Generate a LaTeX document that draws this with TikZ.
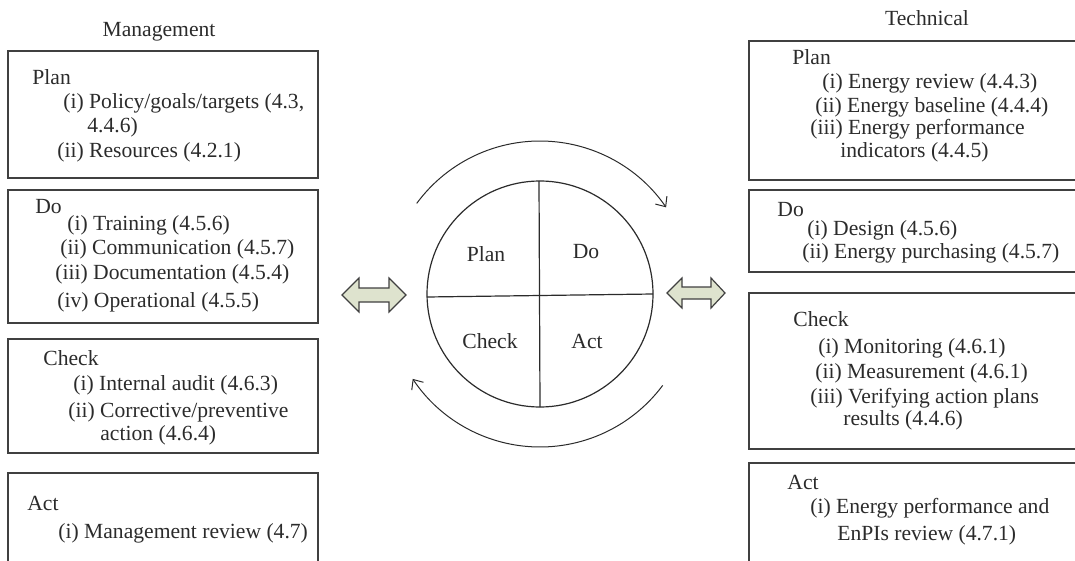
\documentclass[tikz,border=0pt]{standalone}
\usepackage{tikz}
\usepackage{fontspec}
\setmainfont{Liberation Serif}
\usetikzlibrary{arrows.meta}
\definecolor{arrowfill}{HTML}{DEE3CE}
\definecolor{inkgray}{HTML}{2B2B2B}
\tikzset{
    boxline/.style={line width=0.7pt, draw=inkgray!90},
    txt/.style={anchor=west, inner sep=0pt, text=inkgray, font=\fontsize{10.8}{13}\selectfont},
    ctxt/.style={inner sep=0pt, text=inkgray, font=\fontsize{10.8}{13}\selectfont},
    dblarrow/.style={line width=0.6pt, draw=inkgray!90, fill=arrowfill},
    cycarrow/.style={line width=0.5pt, draw=inkgray, -{Straight Barb[length=4pt,width=7pt]}}
}
\begin{document}
\begin{tikzpicture}[x=0.5pt, y=-0.5pt]
                \useasboundingbox (0,0) rectangle (1075,561);
                % management boxes
                \draw [boxline] (8,51) rectangle (318,178);
                \draw [boxline] (8,190) rectangle (318,323);
                \draw [boxline] (8,339) rectangle (318,453);
                \draw [boxline] (8,561) -- (8,473) -- (318,473) -- (318,561);
                % technical boxes
                \draw [boxline] (1075,41) -- (749,41) -- (749,180) -- (1075,180);
                \draw [boxline] (1075,190) -- (749,190) -- (749,272) -- (1075,272);
                \draw [boxline] (1075,293) -- (749,293) -- (749,449) -- (1075,449);
                \draw [boxline] (1075,463) -- (749,463) -- (749,561);
                \node [ctxt] (mgmt) at (159,32) {Management};
                \node [ctxt] (tech) at (927,18) {Technical};
                \node [txt] (mplan) at (32,77) {Plan};
                \node [txt] (mplan1) at (63,103) {(i) Policy/goals/targets (4.3,};
                \node [txt] (mplan1b) at (87,127) {4.4.6)};
                \node [txt] (mplan2) at (57,152) {(ii) Resources (4.2.1)};
                \node [txt] (mdo) at (35,207) {Do};
                \node [txt] (mdo1) at (67,225) {(i) Training (4.5.6)};
                \node [txt] (mdo2) at (60,249) {(ii) Communication (4.5.7)};
                \node [txt] (mdo3) at (55,274) {(iii) Documentation (4.5.4)};
                \node [txt] (mdo4) at (57,302) {(iv) Operational (4.5.5)};
                \node [txt] (mcheck) at (43,358) {Check};
                \node [txt] (mcheck1) at (73,385) {(i) Internal audit (4.6.3)};
                \node [txt] (mcheck2) at (68,412) {(ii) Corrective/preventive};
                \node [txt] (mcheck2b) at (100,435) {action (4.6.4)};
                \node [txt] (mact) at (27,503) {Act};
                \node [txt] (mact1) at (58,533) {(i) Management review (4.7)};
                \node [txt] (tplan) at (792,57) {Plan};
                \node [txt] (tplan1) at (822,83) {(i) Energy review (4.4.3)};
                \node [txt] (tplan2) at (815,107) {(ii) Energy baseline (4.4.4)};
                \node [txt] (tplan3) at (810,129) {(iii) Energy performance};
                \node [txt] (tplan3b) at (840,152) {indicators (4.4.5)};
                \node [txt] (tdo) at (777,210) {Do};
                \node [txt] (tdo1) at (807,230) {(i) Design (4.5.6)};
                \node [txt] (tdo2) at (802,253) {(ii) Energy purchasing (4.5.7)};
                \node [txt] (tcheck) at (793,319) {Check};
                \node [txt] (tcheck1) at (818,348) {(i) Monitoring (4.6.1)};
                \node [txt] (tcheck2) at (815,373) {(ii) Measurement (4.6.1)};
                \node [txt] (tcheck3) at (810,398) {(iii) Verifying action plans};
                \node [txt] (tcheck3b) at (843,420) {results (4.4.6)};
                \node [txt] (tact) at (787,482) {Act};
                \node [txt] (tact1) at (810,508) {(i) Energy performance and};
                \node [txt] (tact1b) at (837,535) {EnPIs review (4.7.1)};
                % cycle
                \coordinate (cyc) at (540,294);
                \draw [line width=0.6pt, inkgray] (cyc) circle [radius=113];
                \draw [line width=0.6pt, inkgray] (427,297) -- (653,294);
                \draw [line width=0.6pt, inkgray] (539,181) -- (540,407);
                \node [ctxt] (cplan) at (486,254) {Plan};
                \node [ctxt] (cdo) at (586,252) {Do};
                \node [ctxt] (ccheck) at (490,341) {Check};
                \node [ctxt] (cact) at (587,341) {Act};
                \draw [cycarrow] ([shift={(-143.7:153)}]cyc) arc [start angle=-143.7, end angle=-34.5, radius=153];
                \draw [cycarrow] ([shift={(36.7:153)}]cyc) arc [start angle=36.7, end angle=146.3, radius=153];
                % double arrows
                \draw [dblarrow] (342,295) -- (359,278) -- (359,288) -- (389,288) -- (389,278) -- (406,295)
                        -- (389,312) -- (389,302) -- (359,302) -- (359,312) -- cycle;
                \draw [dblarrow] (667,293) -- (682,278) -- (682,287) -- (711,287) -- (711,278) -- (725,293)
                        -- (711,308) -- (711,299) -- (682,299) -- (682,308) -- cycle;
            \end{tikzpicture}
\end{document}
